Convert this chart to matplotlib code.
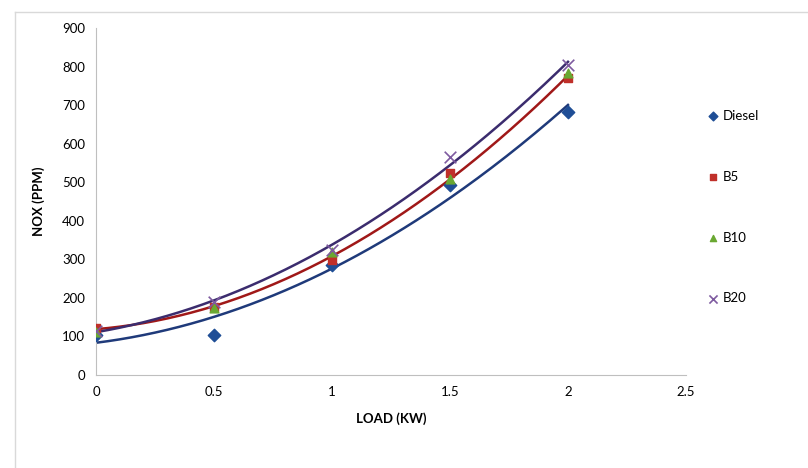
import matplotlib.pyplot as plt
import numpy as np
from matplotlib.lines import Line2D

# data
load = [0, 0.5, 1, 1.5, 2]
diesel = [105, 105, 285, 493, 682]
b5 = [122, 176, 298, 524, 770]
b10 = [112, 174, 319, 508, 783]
b20 = [115, 190, 325, 565, 804]

x_ticks = [0, 0.5, 1, 1.5, 2, 2.5]
x_tick_labels = ["0", "0.5", "1", "1.5", "2", "2.5"]
y_ticks = [0, 100, 200, 300, 400, 500, 600, 700, 800, 900]

plt.rcParams["font.family"] = ["Lato", "DejaVu Sans"]

fig = plt.figure(figsize=(8.08, 4.68), dpi=100)
ax = fig.add_axes([0.1188, 0.1987, 0.7302, 0.7415])

# outer chart frame (only top/left inside the picture)
fig.add_artist(Line2D([15 / 808, 1.0], [1 - 12 / 468] * 2, color="#d9d9d9", lw=1))
fig.add_artist(Line2D([15 / 808] * 2, [0.0, 1 - 12 / 468], color="#d9d9d9", lw=1))

series = [
    ("Diesel", diesel, "D", "#1f4e96", "#1f3a7a", True),
    ("B5", b5, "s", "#c0302a", "#a01818", True),
    ("B10", b10, "^", "#6aa832", "#6aa832", False),
    ("B20", b20, "x", "#7e5ba0", "#3b2c6e", True),
]

xs = np.linspace(0, 2, 200)
handles = []
for name, vals, marker, mcol, lcol, trend in series:
    if trend:
        # second-order polynomial trendline, like the spreadsheet one
        coef = np.polyfit(load, vals, 2)
        ax.plot(xs, np.polyval(coef, xs), color=lcol, lw=1.8, zorder=2)
for name, vals, marker, mcol, lcol, trend in series:
    if marker == "x":
        h = ax.scatter(load, vals, marker=marker, s=70, color=mcol, linewidths=1.2, zorder=3, label=name)
    else:
        h = ax.scatter(load, vals, marker=marker, s=40, color=mcol, zorder=3, label=name)
    handles.append(h)

ax.set_xlim(0, 2.5)
ax.set_ylim(0, 900)
ax.set_xticks(x_ticks)
ax.set_xticklabels(x_tick_labels)
ax.set_yticks(y_ticks)
ax.tick_params(length=0, labelsize=9.5, pad=8)
for s in ["top", "right"]:
    ax.spines[s].set_visible(False)
for s in ["left", "bottom"]:
    ax.spines[s].set_color("#bfbfbf")

ax.set_xlabel("LOAD (KW)", fontsize=9.5, fontweight="bold", labelpad=10)
ax.set_ylabel("NOX (PPM)", fontsize=9.5, fontweight="bold", labelpad=12)

fig.legend(handles=handles, loc="upper left", bbox_to_anchor=(696 / 808, 1 - 98 / 468),
           frameon=False, fontsize=9.5, labelspacing=3.7, handlelength=0.8,
           handletextpad=0.3, markerscale=0.7)

fig.savefig("out.png", dpi=100)
